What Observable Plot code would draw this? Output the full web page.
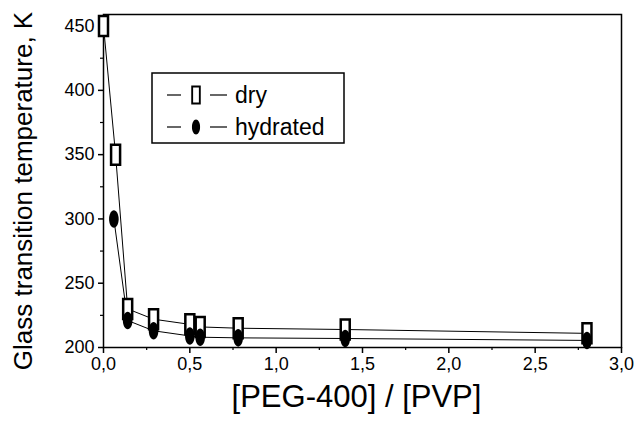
<!DOCTYPE html>
<html>
<head>
<meta charset="utf-8">
<script src="https://cdn.jsdelivr.net/npm/d3@7"></script>
<script src="https://cdn.jsdelivr.net/npm/@observablehq/plot@0.6"></script>
<style>
  html, body { margin: 0; padding: 0; background: white; }
</style>
</head>
<body>
<div id="chart"></div>
<script>
// Data
const ratioDry = [0, 0.07, 0.14, 0.29, 0.5, 0.56, 0.78, 1.4, 2.8];
const tgDry    = [450, 350, 230, 222, 218, 216, 215, 214, 211];
const ratioHyd = [0.06, 0.14, 0.29, 0.5, 0.56, 0.78, 1.4, 2.8];
const tgHyd    = [300, 221, 213, 209, 208, 207.5, 207, 205.5];
const xTicks = [0, 0.5, 1.0, 1.5, 2.0, 2.5, 3.0];
const xMinorTicks = [0.25, 0.75, 1.25, 1.75, 2.25, 2.75];
const yTicks = [200, 250, 300, 350, 400, 450];
const yMinorTicks = [225, 275, 325, 375, 425];
const seriesNames = ["dry", "hydrated"];
const xTitle = "[PEG-400] / [PVP]";
const yTitle = "Glass transition temperature, K";

const dry = ratioDry.map((x, i) => ({x, y: tgDry[i]}));
const hyd = ratioHyd.map((x, i) => ({x, y: tgHyd[i]}));

const rectSymbol = {
  draw(ctx) {
    ctx.moveTo(-4.5, -10); ctx.lineTo(4.5, -10); ctx.lineTo(4.5, 10); ctx.lineTo(-4.5, 10); ctx.closePath();
  }
};
const ellipseSymbol = {
  draw(ctx) {
    const rx = 4.8, ry = 8.8, k = 0.5523;
    ctx.moveTo(rx, 0);
    ctx.bezierCurveTo(rx, ry * k, rx * k, ry, 0, ry);
    ctx.bezierCurveTo(-rx * k, ry, -rx, ry * k, -rx, 0);
    ctx.bezierCurveTo(-rx, -ry * k, -rx * k, -ry, 0, -ry);
    ctx.bezierCurveTo(rx * k, -ry, rx, -ry * k, rx, 0);
    ctx.closePath();
  }
};

const fmt = d => d.toFixed(1).replace(".", ",");
const font = "'Liberation Sans', Arial, Helvetica, sans-serif";

const svg = Plot.plot({
  width: 637,
  height: 422,
  marginLeft: 103,
  marginRight: 16,
  marginTop: 14,
  marginBottom: 75,
  x: {domain: [0, 3]},
  y: {domain: [200, 459]},
  style: {fontFamily: font, background: "white", color: "black", overflow: "visible"},
  marks: [
    Plot.axisX({ticks: xTicks, tickSize: 6, tickPadding: 4, fontSize: 18, tickFormat: fmt, label: null, strokeWidth: 1.5}),
    Plot.axisX({ticks: xMinorTicks, tickSize: 3, text: null, label: null, strokeWidth: 1.2}),
    Plot.axisY({ticks: yTicks, tickSize: 5, tickPadding: 4, fontSize: 18, label: null, strokeWidth: 1.5}),
    Plot.axisY({ticks: yMinorTicks, tickSize: 3, text: null, label: null, strokeWidth: 1.2}),
    Plot.frame({stroke: "black", strokeWidth: 1.5}),
    Plot.line(dry, {x: "x", y: "y", stroke: "black", strokeWidth: 1}),
    Plot.line(hyd, {x: "x", y: "y", stroke: "black", strokeWidth: 1}),
    Plot.dot(dry, {x: "x", y: "y", symbol: rectSymbol, fill: "white", stroke: "black", strokeWidth: 2.5}),
    Plot.dot(hyd, {x: "x", y: "y", symbol: ellipseSymbol, fill: "black", stroke: "none"}),
    Plot.text([xTitle], {frameAnchor: "bottom", dy: 59, dx: -6, fontSize: 31, fill: "black"}),
    Plot.text([yTitle], {frameAnchor: "left", textAnchor: "middle", rotate: -90, dx: -80, dy: 10, fontSize: 26, fill: "black"})
  ]
});

// Legend box (inside the plot frame)
const sel = d3.select(svg);
const lg = sel.append("g").attr("font-family", font).attr("text-anchor", "start");
lg.append("rect").attr("x", 152).attr("y", 73).attr("width", 192).attr("height", 70)
  .attr("fill", "white").attr("stroke", "black").attr("stroke-width", 1.5);
const rows = [
  {name: seriesNames[0], y: 95, sym: rectSymbol, fill: "white", stroke: "black", sw: 2.2},
  {name: seriesNames[1], y: 127, sym: ellipseSymbol, fill: "black", stroke: "none", sw: 0}
];
rows.forEach(r => {
  lg.append("line").attr("x1", 167).attr("x2", 181).attr("y1", r.y).attr("y2", r.y).attr("stroke", "black").attr("stroke-width", 1.2);
  lg.append("line").attr("x1", 210).attr("x2", 227).attr("y1", r.y).attr("y2", r.y).attr("stroke", "black").attr("stroke-width", 1.2);
  lg.append("path").attr("d", d3.symbol().type(r.sym)()).attr("transform", `translate(196,${r.y}) scale(0.85)`)
    .attr("fill", r.fill).attr("stroke", r.stroke).attr("stroke-width", r.sw);
  lg.append("text").attr("x", 235).attr("y", r.y).attr("dy", "0.35em").attr("font-size", 23).attr("fill", "black").text(r.name);
});

document.getElementById("chart").appendChild(svg);
</script>
</body>
</html>
